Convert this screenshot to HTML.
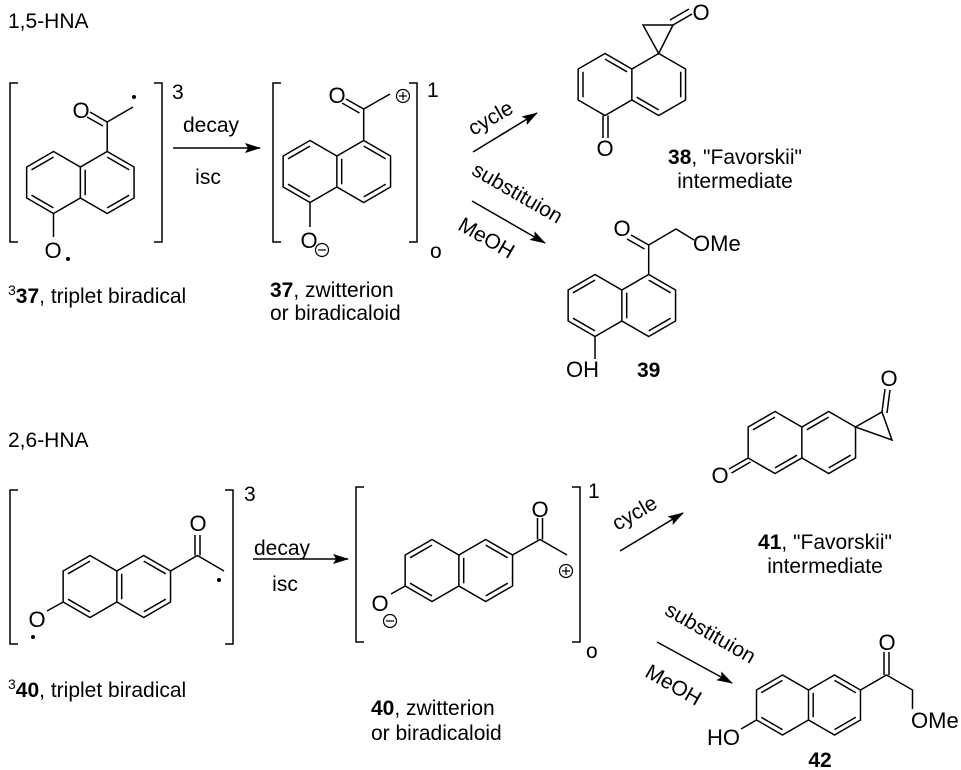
<!DOCTYPE html>
<html><head><meta charset="utf-8"><style>
html,body{margin:0;padding:0;background:#fff;}
svg{display:block;}
text{font-family:"Liberation Sans",Arial,sans-serif;fill:#000;}
</style></head><body>
<svg width="961" height="770" viewBox="0 0 961 770" xmlns="http://www.w3.org/2000/svg">
<defs>
<marker id="ah" markerWidth="16" markerHeight="10" refX="15" refY="5" orient="auto" markerUnits="userSpaceOnUse">
<path d="M0,0 L16,5 L0,10 L3,5 Z" fill="#000"/>
</marker>
<g id="nsk" fill="none" stroke="#000" stroke-width="1.5">
<path d="M0,-31 L-26.85,-15.5 L-26.85,15.5 L0,31 L26.85,15.5 L53.7,31 L80.55,15.5 L80.55,-15.5 L53.7,-31 L26.85,-15.5 Z M26.85,-15.5 L26.85,15.5"/>
</g>
<g id="nar" fill="none" stroke="#000" stroke-width="1.5">
<path d="M0,-25.4 L-22,-12.7 M-22,12.7 L0,25.4 M31.7,-12.7 L31.7,12.7 M53.7,-25.4 L75.7,-12.7 M75.7,12.7 L53.7,25.4"/>
</g>
</defs>
<g font-size="21">
<text x="8" y="28">1,5-HNA</text>
<text x="8" y="447">2,6-HNA</text>
</g>

<!-- ===== 3-37 ===== -->
<g fill="none" stroke="#000" stroke-width="1.5">
<path d="M18,83 H10 V242 H18"/>
<path d="M154,83 H162 V242 H154"/>
</g>
<use href="#nsk" x="53.5" y="182.5"/><use href="#nar" x="53.5" y="182.5"/>
<g stroke="#000" stroke-width="1.5" fill="none">
<path d="M107.2,151.5 V122 L133,107 M107.2,122 L90,112 M103,126 L87,117"/>
<path d="M53.5,213.5 V237"/>
</g>
<circle cx="134" cy="97" r="2" fill="#000"/>
<circle cx="68" cy="259" r="2" fill="#000"/>
<g font-size="22" text-anchor="middle">
<text x="81" y="118">O</text>
<text x="53" y="258">O</text>
</g>
<text x="172" y="99" font-size="21">3</text>

<line x1="173" y1="148" x2="260" y2="148" stroke="#000" stroke-width="1.5" marker-end="url(#ah)"/>
<g font-size="21" text-anchor="middle">
<text x="211" y="132">decay</text>
<text x="208" y="184">isc</text>
</g>

<!-- ===== 37 zwitterion ===== -->
<g fill="none" stroke="#000" stroke-width="1.5">
<path d="M281,83 H273 V242 H281"/>
<path d="M409,83 H417 V242 H409"/>
</g>
<use href="#nsk" x="310" y="171.5"/><use href="#nar" x="310" y="171.5"/>
<g stroke="#000" stroke-width="1.5" fill="none">
<path d="M363.7,140.5 V109 L390,94 M363.7,109 L346,99 M359.5,113 L342,103"/>
<path d="M310,202.5 V227"/>
<circle cx="403" cy="96" r="6.5" stroke-width="1.2"/>
<path d="M399,96 H407 M403,92 V100" stroke-width="1.2"/>
<circle cx="322" cy="250" r="6.5" stroke-width="1.2"/>
<path d="M318,250 H326" stroke-width="1.2"/>
</g>
<g font-size="22" text-anchor="middle">
<text x="337" y="103">O</text>
<text x="309" y="248">O</text>
</g>
<text x="427" y="97" font-size="21">1</text>
<text x="430" y="258" font-size="21">o</text>

<line x1="473" y1="152" x2="537" y2="113" stroke="#000" stroke-width="1.5" marker-end="url(#ah)"/>
<line x1="472" y1="201" x2="545" y2="243" stroke="#000" stroke-width="1.5" marker-end="url(#ah)"/>
<g font-size="21" text-anchor="middle">
<text transform="translate(494,124) rotate(-30)">cycle</text>
<text transform="translate(514,199) rotate(30)">substituion</text>
<text transform="translate(483,244) rotate(30)">MeOH</text>
</g>

<!-- ===== 38 ===== -->
<use href="#nsk" x="605" y="84.5"/>
<g transform="translate(605,84.5)" fill="none" stroke="#000" stroke-width="1.5">
<path d="M-22,-12.7 L-22,12.7 M0,-25.4 L22,-12.7 M75.7,-12.7 L75.7,12.7 M53.7,25.4 L31.7,12.7"/>
</g>
<g stroke="#000" stroke-width="1.5" fill="none">
<path d="M603,115.5 V138 M608,115.5 V138"/>
<path d="M658.7,53.5 L643,25 L673,25 Z"/>
<path d="M673,25 L692,14 M670,20 L689,9"/>
</g>
<g font-size="22" text-anchor="middle">
<text x="605" y="156">O</text>
<text x="701" y="20">O</text>
</g>
<g font-size="21" text-anchor="middle">
<text x="735" y="164"><tspan font-weight="bold">38</tspan>, "Favorskii"</text>
<text x="735" y="188">intermediate</text>
</g>

<!-- ===== 39 ===== -->
<use href="#nsk" x="595" y="305.5"/><use href="#nar" x="595" y="305.5"/>
<g stroke="#000" stroke-width="1.5" fill="none">
<path d="M648.7,274.5 V245 L676,229 L694,240 M648.7,245 L631,235 M644.5,249 L627,239"/>
<path d="M595,336.5 V359"/>
</g>
<g font-size="22">
<text x="622" y="236" text-anchor="middle">O</text>
<text x="693" y="251">OMe</text>
<text x="566" y="377">OH</text>
</g>
<text x="637" y="377" font-size="21" font-weight="bold">39</text>

<g font-size="21">
<text x="8" y="303"><tspan font-size="14" dy="-8">3</tspan><tspan font-weight="bold" dy="8">37</tspan>, triplet biradical</text>
<text x="270" y="297"><tspan font-weight="bold">37</tspan>, zwitterion</text>
<text x="270" y="320">or biradicaloid</text>
</g>

<!-- ===== 3-40 ===== -->
<g fill="none" stroke="#000" stroke-width="1.5">
<path d="M18,490 H10 V644 H18"/>
<path d="M225,490 H233 V644 H225"/>
</g>
<use href="#nsk" x="90" y="586.5"/><use href="#nar" x="90" y="586.5"/>
<g stroke="#000" stroke-width="1.5" fill="none">
<path d="M170.5,571 L197.4,555.5 L224,571 M195,555.5 V535 M200,555.5 V535"/>
<path d="M63.2,602 L47,611"/>
</g>
<circle cx="219" cy="580" r="2" fill="#000"/>
<circle cx="33" cy="637" r="2" fill="#000"/>
<g font-size="22" text-anchor="middle">
<text x="198" y="531">O</text>
<text x="37" y="627">O</text>
</g>
<text x="244" y="501" font-size="21">3</text>

<line x1="253" y1="559" x2="348" y2="559" stroke="#000" stroke-width="1.5" marker-end="url(#ah)"/>
<g font-size="21" text-anchor="middle">
<text x="282" y="555">decay</text>
<text x="285" y="591">isc</text>
</g>

<!-- ===== 40 zwitterion ===== -->
<g fill="none" stroke="#000" stroke-width="1.5">
<path d="M364,487 H356 V642 H364"/>
<path d="M572,487 H580 V642 H572"/>
</g>
<use href="#nsk" x="432" y="570.5"/><use href="#nar" x="432" y="570.5"/>
<g stroke="#000" stroke-width="1.5" fill="none">
<path d="M512.5,555 L540,539.5 L567,555 M537.5,539.5 V518 M542.5,539.5 V518"/>
<path d="M405.2,586 L391,594"/>
<circle cx="566" cy="571" r="6.5" stroke-width="1.2"/>
<path d="M562,571 H570 M566,567 V575" stroke-width="1.2"/>
<circle cx="390" cy="621" r="6.5" stroke-width="1.2"/>
<path d="M386,621 H394" stroke-width="1.2"/>
</g>
<g font-size="22" text-anchor="middle">
<text x="540" y="517">O</text>
<text x="380" y="611">O</text>
</g>
<text x="588" y="498" font-size="21">1</text>
<text x="586" y="658" font-size="21">o</text>

<g font-size="21">
<text x="8" y="697"><tspan font-size="14" dy="-8">3</tspan><tspan font-weight="bold" dy="8">40</tspan>, triplet biradical</text>
<text x="371" y="715"><tspan font-weight="bold">40</tspan>, zwitterion</text>
<text x="371" y="740">or biradicaloid</text>
</g>

<line x1="620" y1="551" x2="683" y2="513" stroke="#000" stroke-width="1.5" marker-end="url(#ah)"/>
<line x1="657" y1="642" x2="732" y2="683" stroke="#000" stroke-width="1.5" marker-end="url(#ah)"/>
<g font-size="21" text-anchor="middle">
<text transform="translate(638,519) rotate(-30)">cycle</text>
<text transform="translate(707,639) rotate(30)">substituion</text>
<text transform="translate(670,691) rotate(30)">MeOH</text>
</g>

<!-- ===== 41 ===== -->
<use href="#nsk" x="775" y="442.5"/>
<g transform="translate(775,442.5)" fill="none" stroke="#000" stroke-width="1.5">
<path d="M-22,-12.7 L0,-25.4 M0,25.4 L22,12.7 M31.7,-12.7 L53.7,-25.4 M53.7,25.4 L75.7,12.7"/>
</g>
<g stroke="#000" stroke-width="1.5" fill="none">
<path d="M748.2,458 L729,469 M750.5,462 L731.5,473"/>
<path d="M855.4,427 L882,412 L892,440 Z"/>
<path d="M882,412 L885,389 M887,413 L890,390"/>
</g>
<g font-size="22" text-anchor="middle">
<text x="720" y="483">O</text>
<text x="889" y="386">O</text>
</g>
<g font-size="21" text-anchor="middle">
<text x="825" y="549"><tspan font-weight="bold">41</tspan>, "Favorskii"</text>
<text x="825" y="573">intermediate</text>
</g>

<!-- ===== 42 ===== -->
<g transform="translate(782.5,705) scale(0.968)">
<use href="#nsk"/><use href="#nar"/>
</g>
<g stroke="#000" stroke-width="1.5" fill="none">
<path d="M860.5,690 L886.5,675 L912.5,690 V709 M884,675 V652 M889,675 V652"/>
<path d="M756.5,720 L741,729"/>
</g>
<g font-size="22">
<text x="887" y="650" text-anchor="middle">O</text>
<text x="911" y="728">OMe</text>
<text x="740" y="745" text-anchor="end">HO</text>
</g>
<text x="820" y="767" font-size="21" font-weight="bold" text-anchor="middle">42</text>
</svg>
</body></html>
